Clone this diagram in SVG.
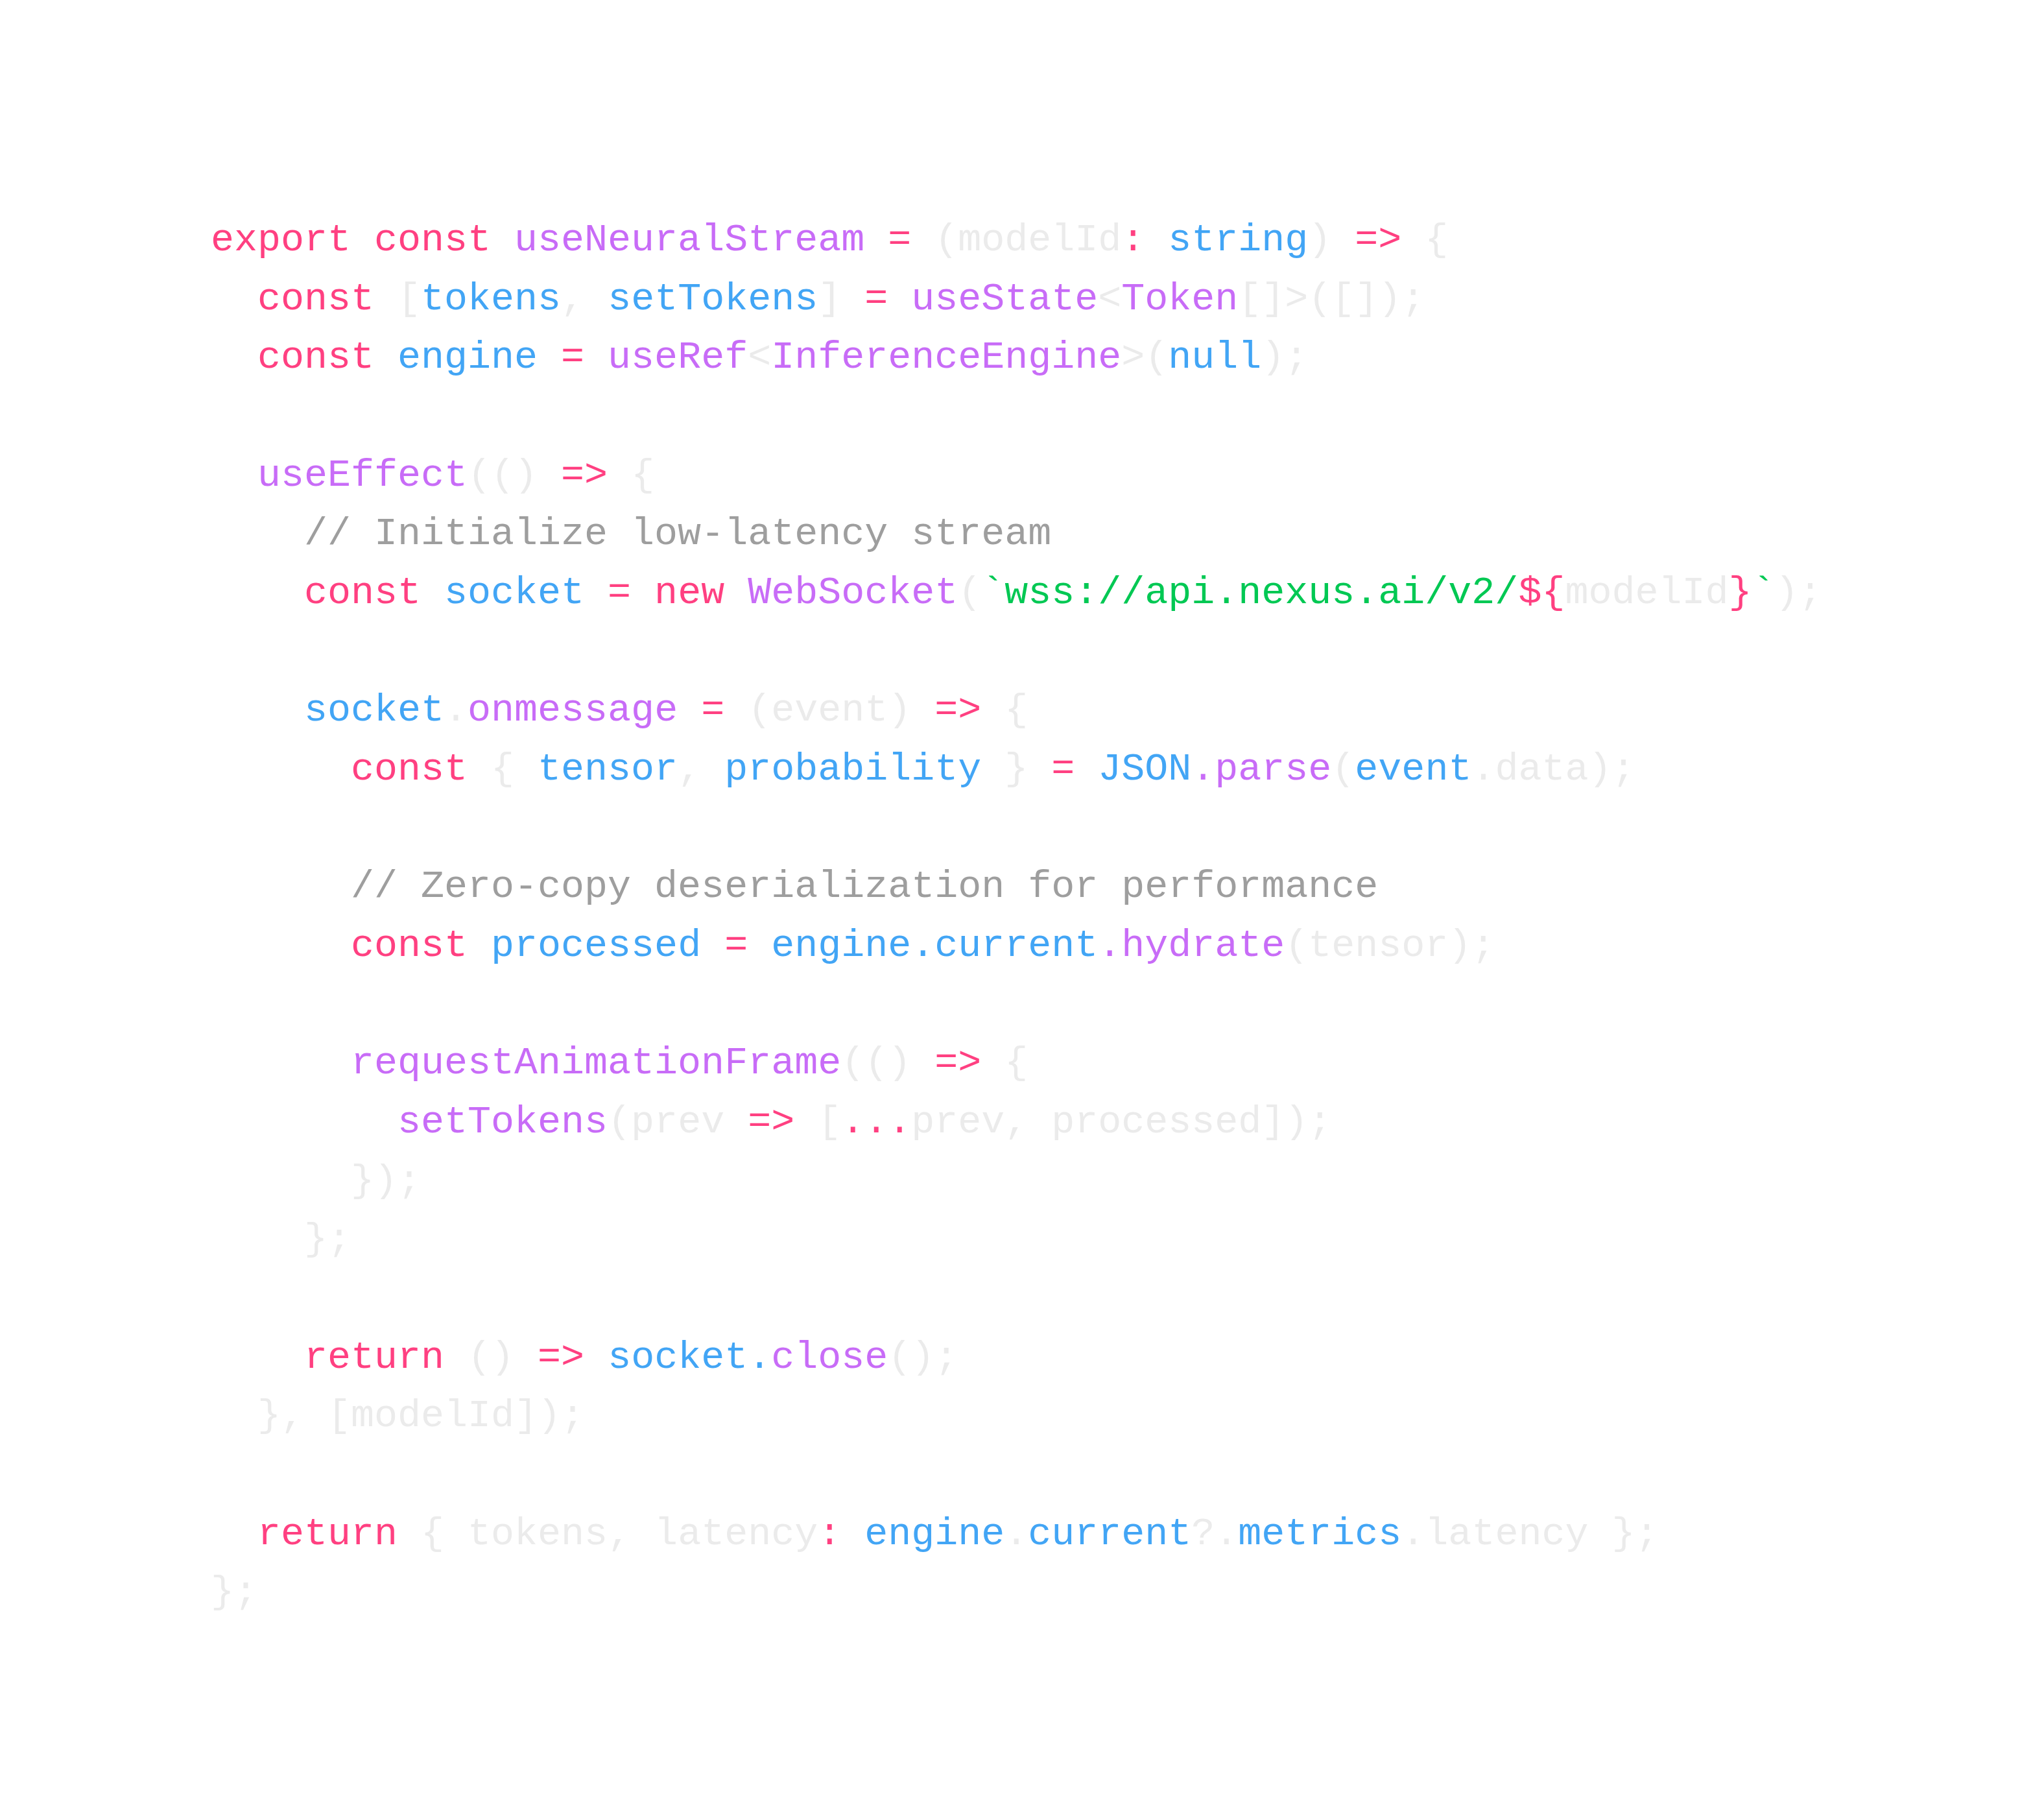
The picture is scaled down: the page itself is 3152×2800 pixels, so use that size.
<svg xmlns="http://www.w3.org/2000/svg" width="3152" height="2800" viewBox="0 0 3152 2800">
<style>
text{font-family:"Liberation Mono","DejaVu Sans Mono",monospace;font-size:60px;white-space:pre}
.p{fill:#ff4081}.v{fill:#c86cf7}.b{fill:#42a5f5}.g{fill:#00c853}.c{fill:#9e9e9e}.f{fill:#ebebeb}
</style>
<rect width="3152" height="2800" fill="#ffffff"/>
<g id="code" xml:space="preserve">
<text x="325" y="386"><tspan class="p">export const </tspan><tspan class="v">useNeuralStream</tspan><tspan class="p"> = </tspan><tspan class="f">(modelId</tspan><tspan class="p">: </tspan><tspan class="b">string</tspan><tspan class="f">) </tspan><tspan class="p">=&gt; </tspan><tspan class="f">{</tspan></text>
<text x="325" y="477"><tspan class="p">  const </tspan><tspan class="f">[</tspan><tspan class="b">tokens</tspan><tspan class="f">, </tspan><tspan class="b">setTokens</tspan><tspan class="f">] </tspan><tspan class="p">= </tspan><tspan class="v">useState</tspan><tspan class="f">&lt;</tspan><tspan class="v">Token</tspan><tspan class="f">[]&gt;([]);</tspan></text>
<text x="325" y="567"><tspan class="p">  const </tspan><tspan class="b">engine </tspan><tspan class="p">= </tspan><tspan class="v">useRef</tspan><tspan class="f">&lt;</tspan><tspan class="v">InferenceEngine</tspan><tspan class="f">&gt;(</tspan><tspan class="b">null</tspan><tspan class="f">);</tspan></text>
<text x="325" y="749"><tspan class="v">  useEffect</tspan><tspan class="f">(() </tspan><tspan class="p">=&gt; </tspan><tspan class="f">{</tspan></text>
<text x="325" y="839"><tspan class="c">    // Initialize low-latency stream</tspan></text>
<text x="325" y="930"><tspan class="p">    const </tspan><tspan class="b">socket </tspan><tspan class="p">= new </tspan><tspan class="v">WebSocket</tspan><tspan class="f">(</tspan><tspan class="g">`wss://api.nexus.ai/v2/</tspan><tspan class="p">${</tspan><tspan class="f">modelId</tspan><tspan class="p">}</tspan><tspan class="g">`</tspan><tspan class="f">);</tspan></text>
<text x="325" y="1111"><tspan class="b">    socket</tspan><tspan class="f">.</tspan><tspan class="v">onmessage </tspan><tspan class="p">= </tspan><tspan class="f">(event) </tspan><tspan class="p">=&gt; </tspan><tspan class="f">{</tspan></text>
<text x="325" y="1202"><tspan class="p">      const </tspan><tspan class="f">{ </tspan><tspan class="b">tensor</tspan><tspan class="f">, </tspan><tspan class="b">probability </tspan><tspan class="f">} </tspan><tspan class="p">= </tspan><tspan class="b">JSON</tspan><tspan class="v">.parse</tspan><tspan class="f">(</tspan><tspan class="b">event</tspan><tspan class="f">.data);</tspan></text>
<text x="325" y="1383"><tspan class="c">      // Zero-copy deserialization for performance</tspan></text>
<text x="325" y="1474"><tspan class="p">      const </tspan><tspan class="b">processed </tspan><tspan class="p">= </tspan><tspan class="b">engine.current</tspan><tspan class="v">.hydrate</tspan><tspan class="f">(tensor);</tspan></text>
<text x="325" y="1655"><tspan class="v">      requestAnimationFrame</tspan><tspan class="f">(() </tspan><tspan class="p">=&gt; </tspan><tspan class="f">{</tspan></text>
<text x="325" y="1746"><tspan class="v">        setTokens</tspan><tspan class="f">(prev </tspan><tspan class="p">=&gt; </tspan><tspan class="f">[</tspan><tspan class="p">...</tspan><tspan class="f">prev, processed]);</tspan></text>
<text x="325" y="1837"><tspan class="f">      });</tspan></text>
<text x="325" y="1927"><tspan class="f">    };</tspan></text>
<text x="325" y="2109"><tspan class="p">    return </tspan><tspan class="f">() </tspan><tspan class="p">=&gt; </tspan><tspan class="b">socket.</tspan><tspan class="v">close</tspan><tspan class="f">();</tspan></text>
<text x="325" y="2199"><tspan class="f">  }, [modelId]);</tspan></text>
<text x="325" y="2381"><tspan class="p">  return </tspan><tspan class="f">{ tokens, latency</tspan><tspan class="p">: </tspan><tspan class="b">engine</tspan><tspan class="f">.</tspan><tspan class="b">current</tspan><tspan class="f">?.</tspan><tspan class="b">metrics</tspan><tspan class="f">.latency };</tspan></text>
<text x="325" y="2471"><tspan class="f">};</tspan></text>
</g>
</svg>
